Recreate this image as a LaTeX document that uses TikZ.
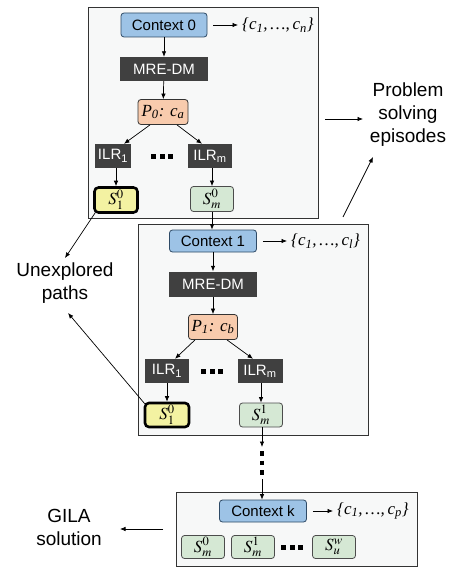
\documentclass[tikz,border=0pt]{standalone}
\usepackage[no-math]{fontspec}
\usepackage{mathptmx}
\setmainfont{Liberation Sans}
\newfontfamily\tms{Liberation Serif}
\usetikzlibrary{arrows.meta}
\definecolor{boxbg}{HTML}{F7F8F8}
\definecolor{ctxfill}{HTML}{9DC3E6}
\definecolor{ctxline}{HTML}{2E4A66}
\definecolor{mrefill}{HTML}{404040}
\definecolor{pfill}{HTML}{F8CBAD}
\definecolor{syfill}{HTML}{F3F2A2}
\definecolor{sgfill}{HTML}{D5E8D4}
\newcommand{\dotsq}{\rule{5pt}{5pt}\hspace{3.5pt}\rule{5pt}{5pt}\hspace{3.5pt}\rule{5pt}{5pt}}
\tikzset{
  bigbox/.style={draw=black!80, fill=boxbg, line width=0.8pt, inner sep=0pt, anchor=north west},
  ctx/.style={draw=ctxline, fill=ctxfill, rounded corners=3pt, line width=0.8pt, inner sep=0pt, font=\fontsize{15}{16}\selectfont},
  mre/.style={fill=mrefill, text=white, inner sep=0pt, font=\fontsize{15}{16}\selectfont},
  pbox/.style={draw=black!80, fill=pfill, rounded corners=3pt, line width=0.8pt, inner sep=0pt, font={\tms\itshape\fontsize{17}{18}\selectfont}},
  sy/.style={draw=black, fill=syfill, line width=2.6pt, rounded corners=4pt, inner sep=0pt, font=\fontsize{17}{18}\selectfont},
  sg/.style={draw=black!70, fill=sgfill, rounded corners=3pt, line width=0.8pt, inner sep=0pt, font=\fontsize{17}{18}\selectfont},
  arr/.style={-{Latex[length=5.5pt,width=4.5pt]}, line width=0.7pt},
  lbl/.style={font=\fontsize{19}{23}\selectfont, align=center, inner sep=1pt},
  setlbl/.style={anchor=west, inner xsep=4pt, inner ysep=1pt, font={\tms\itshape\fontsize{17}{18}\selectfont}},
  dotn/.style={inner sep=0pt},
}
\begin{document}
\begin{tikzpicture}[x=1pt,y=-1pt]
\useasboundingbox (0,0) rectangle (453,567);
% big boxes
\node[bigbox, minimum width=230pt, minimum height=211pt] (box0) at (88,7) {};
\node[bigbox, minimum width=230pt, minimum height=211pt] (box1) at (138,224) {};
\node[bigbox, minimum width=241pt, minimum height=74pt] (boxk) at (176,492) {};

% box 0
\node[ctx, minimum width=86pt, minimum height=24pt] (ctx0) at (164,25) {Context 0};
\node[setlbl] (set0) at (238,25) {\{c\textsubscript{1},\,…,\,c\textsubscript{n}\}};
\node[mre, minimum width=88pt, minimum height=24pt] (mre0) at (164,69) {MRE-DM};
\node[pbox, minimum width=50pt, minimum height=25pt] (p0) at (163,112) {P\textsubscript{0}: c\textsubscript{a}};
\node[mre, minimum width=36pt, minimum height=24pt] (ilr01) at (113,156) {ILR\textsubscript{1}};
\node[mre, minimum width=44pt, minimum height=24pt] (ilr0m) at (210,156) {ILR\textsubscript{m}};
\node[dotn] (d0) at (162,156) {\dotsq};
\node[sy, minimum width=43pt, minimum height=25pt] (s01) at (116,200) {$S^0_1$};
\node[sg, minimum width=43pt, minimum height=25pt] (s0m) at (212,199) {$S^0_m$};

% box 1
\node[ctx, minimum width=87pt, minimum height=22pt] (ctx1) at (213,241) {Context 1};
\node[setlbl] (set1) at (287,241) {\{c\textsubscript{1},\,…,\,c\textsubscript{l}\}};
\node[mre, minimum width=88pt, minimum height=25pt] (mre1) at (213,284) {MRE-DM};
\node[pbox, minimum width=49pt, minimum height=25pt] (p1) at (213,327) {P\textsubscript{1}: c\textsubscript{b}};
\node[mre, minimum width=44pt, minimum height=24pt] (ilr11) at (167,371) {ILR\textsubscript{1}};
\node[mre, minimum width=45pt, minimum height=24pt] (ilr1m) at (260,371) {ILR\textsubscript{m}};
\node[dotn] (d1) at (212,371) {\dotsq};
\node[sy, minimum width=44pt, minimum height=24pt] (s11) at (167,415) {$S^0_1$};
\node[sg, minimum width=43pt, minimum height=24pt] (s1m) at (261,415) {$S^1_m$};

% box k
\node[ctx, minimum width=87pt, minimum height=22pt] (ctxk) at (263,511) {Context k};
\node[setlbl] (setk) at (333,511) {\{c\textsubscript{1},\,…,\,c\textsubscript{p}\}};
\node[sg, minimum width=43pt, minimum height=23pt] (sk0) at (203,547) {$S^0_m$};
\node[sg, minimum width=43pt, minimum height=23pt] (sk1) at (253,547) {$S^1_m$};
\node[dotn] (dk) at (292,547) {\dotsq};
\node[sg, minimum width=43pt, minimum height=23pt] (skw) at (334,547) {$S^w_u$};

% outside labels
\node[lbl] (pse) at (408,115) {Problem\\solving\\episodes};
\node[lbl] (unx) at (65,283) {Unexplored\\paths};
\node[lbl] (gila) at (69,527) {GILA\\solution};

% arrows box 0
\draw[arr] (ctx0) -- (mre0);
\draw[arr] (mre0) -- (p0);
\draw[arr] ([xshift=-13pt]p0.south) -- ([xshift=11pt]ilr01.north);
\draw[arr] ([xshift=14pt]p0.south) -- ([xshift=-8pt]ilr0m.north);
\draw[arr] (ilr01.south -| s01.north) -- (s01.north);
\draw[arr] (ilr0m.south -| s0m.north) -- (s0m.north);
\draw[arr] ([xshift=6pt]ctx0.east) -- (set0.west);
\draw[arr] (s0m.south) -- (s0m.south |- ctx1.north);

% arrows box 1
\draw[arr] (ctx1) -- (mre1);
\draw[arr] (mre1) -- (p1);
\draw[arr] ([xshift=-18pt]p1.south) -- ([xshift=8pt]ilr11.north);
\draw[arr] ([xshift=14pt]p1.south) -- ([xshift=-7pt]ilr1m.north);
\draw[arr] (ilr11) -- (s11);
\draw[arr] (ilr1m.south -| s1m.north) -- (s1m.north);
\draw[arr] ([xshift=6pt]ctx1.east) -- (set1.west);

% towards box k
\coordinate (c1) at (262,447);
\coordinate (c2) at (262,451);
\coordinate (c3) at (262,475);
\coordinate (c4) at (262,479);
\draw[arr] (s1m.south -| c1) -- (c1);
\draw[line width=4.5pt, dash pattern=on 4.5pt off 5pt] (c2) -- (c3);
\draw[arr] (c4) -- (c4 |- ctxk.north);
\draw[arr] ([xshift=6pt]ctxk.east) -- (setk.west);

% outside connectors
\coordinate (pa) at (325,119);
\coordinate (pae) at (363,119);
\draw[arr] (pa) -- (pae);
\coordinate (pb) at (343,217);
\coordinate (pbe) at (373,157);
\draw[arr] (pb) -- (pbe);
\coordinate (ue1) at (65,258);
\draw[arr] ([xshift=2pt,yshift=1pt]s01.south west) -- (ue1);
\coordinate (ue2) at (68,313);
\draw[arr] ([xshift=1pt,yshift=-2pt]s11.north west) -- (ue2);
\coordinate (ga) at (163,529);
\coordinate (gae) at (120,529);
\draw[arr] (ga) -- (gae);
\end{tikzpicture}
\end{document}
